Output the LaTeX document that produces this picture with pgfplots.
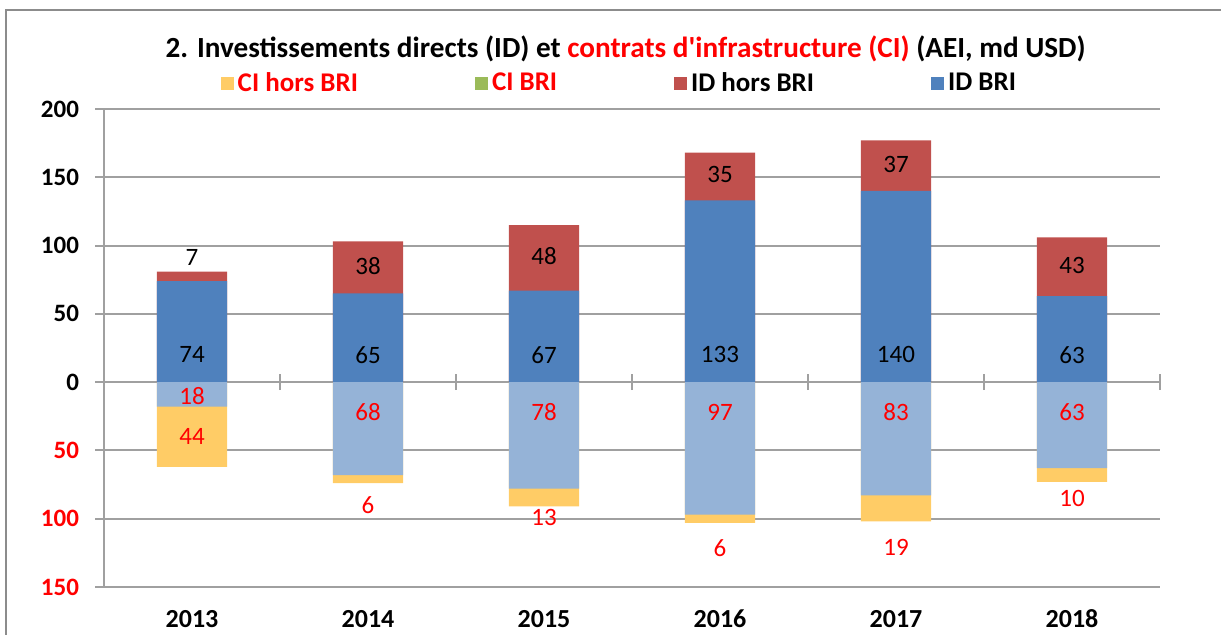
\documentclass[border=0pt]{standalone}
\usepackage{pgfplots}
\pgfplotsset{compat=1.18}
\usepackage{fontspec}
\setmainfont{Carlito}[Ligatures=TeXOff]
\definecolor{idbri}{HTML}{4F81BD}
\definecolor{idhors}{HTML}{C0504D}
\definecolor{cibri}{HTML}{95B3D7}
\definecolor{cibrileg}{HTML}{9BBB59}
\definecolor{cihors}{HTML}{FFCC66}
\definecolor{gridgray}{HTML}{A0A0A0}
\definecolor{framegray}{HTML}{8C8C8C}
\definecolor{lblred}{HTML}{FF0000}
\begin{document}
\begin{tikzpicture}
\path[use as bounding box] (0pt,0pt) rectangle (610.5pt,317.5pt);
\draw[framegray, line width=1pt] (3pt,-3pt) -- (3pt,312.5pt) -- (615pt,312.5pt);
\begin{axis}[
  at={(52pt,24pt)}, anchor=south west,
  scale only axis, width=528pt, height=239pt,
  xmin=-0.5, xmax=5.5, ymin=-150, ymax=200,
  axis x line*=bottom, axis y line*=left,
  x axis line style={draw=none},
  y axis line style={gridgray, line width=1pt, -},
  xtick={0,...,5}, xticklabels={2013,2014,2015,2016,2017,2018},
  xtick style={draw=none},
  xticklabel style={font=\fontsize{13}{15}\selectfont\bfseries, anchor=center, yshift=-11.5pt},
  ytick={-150,-100,...,200},
  yticklabels={\textcolor{lblred}{150},\textcolor{lblred}{100},\textcolor{lblred}{50},0,50,100,150,200},
  yticklabel style={font=\fontsize{12.5}{15}\selectfont\bfseries, anchor=east, xshift=-4.5pt},
  ytick style={gridgray, line width=1pt},
  tick align=outside, major tick length=4.5pt,
  ymajorgrids, grid style={gridgray, line width=1pt},
  title={2. Investissements directs (ID) et \textcolor{lblred}{contrats d'infrastructure (CI)} (AEI, md USD)},
  title style={font=\bfseries\fontsize{14.6}{17}\selectfont, at={(0.494,1)}, anchor=center, yshift=24pt},
  legend style={at={(0.489,1.054)}, anchor=center, draw=none, fill=none, legend columns=4,
    font=\bfseries\fontsize{13.5}{16}\selectfont,
    /tikz/every even column/.append style={column sep=56.5pt}},
  legend image code/.code={\fill[#1] (-1.5pt,-3.25pt) rectangle (5pt,3.25pt);},
]
\addlegendimage{fill=cihors, draw=none}
\addlegendentry{\textcolor{lblred}{CI hors BRI}}
\addlegendimage{fill=cibrileg, draw=none}
\addlegendentry{\textcolor{lblred}{CI BRI}}
\addlegendimage{fill=idhors, draw=none}
\addlegendentry{ID hors BRI}
\addlegendimage{fill=idbri, draw=none}
\addlegendentry{ID BRI}
% ID totals (ID BRI + ID hors BRI)
\addplot[ybar, bar width=35pt, bar shift=0pt, fill=idhors, draw=none, forget plot]
  coordinates {(0,81) (1,103) (2,115) (3,168) (4,177) (5,106)};
% ID BRI
\addplot[ybar, bar width=35pt, bar shift=0pt, fill=idbri, draw=none, forget plot]
  coordinates {(0,74) (1,65) (2,67) (3,133) (4,140) (5,63)};
% CI totals (negative)
\addplot[ybar, bar width=35pt, bar shift=0pt, fill=cihors, draw=none, forget plot]
  coordinates {(0,-62) (1,-74) (2,-91) (3,-103) (4,-102) (5,-73)};
% CI BRI (negative)
\addplot[ybar, bar width=35pt, bar shift=0pt, fill=cibri, draw=none, forget plot]
  coordinates {(0,-18) (1,-68) (2,-78) (3,-97) (4,-83) (5,-63)};
% labels ID BRI
\addplot[draw=none, mark=none, forget plot, nodes near coords, point meta=explicit symbolic,
  nodes near coords style={anchor=center, font=\fontsize{12.5}{15}\selectfont, text=black}]
  coordinates {(0,20)[74] (1,20)[65] (2,20)[67] (3,20)[133] (4,20)[140] (5,20)[63]};
% labels ID hors BRI
\addplot[draw=none, mark=none, forget plot, nodes near coords, point meta=explicit symbolic,
  nodes near coords style={anchor=center, font=\fontsize{12.5}{15}\selectfont, text=black}]
  coordinates {(0,91.5)[7] (1,85)[38] (2,92)[48] (3,152)[35] (4,159.5)[37] (5,85.5)[43]};
% labels CI BRI
\addplot[draw=none, mark=none, forget plot, nodes near coords, point meta=explicit symbolic,
  nodes near coords style={anchor=center, font=\fontsize{12.5}{15}\selectfont, text=lblred}]
  coordinates {(0,-10)[18] (1,-22)[68] (2,-22)[78] (3,-22)[97] (4,-22)[83] (5,-22)[63]};
% labels CI hors BRI
\addplot[draw=none, mark=none, forget plot, nodes near coords, point meta=explicit symbolic,
  nodes near coords style={anchor=center, font=\fontsize{12.5}{15}\selectfont, text=lblred}]
  coordinates {(0,-40)[44] (1,-90)[6] (2,-99)[13] (3,-121.5)[6] (4,-121)[19] (5,-85)[10]};
\end{axis}
\begin{axis}[
  at={(52pt,24pt)}, anchor=south west,
  scale only axis, width=528pt, height=239pt,
  xmin=-0.5, xmax=5.5, ymin=-150, ymax=200,
  axis x line=middle, axis y line=none,
  x axis line style={draw=none, -},
  xtick={0.5,1.5,2.5,3.5,4.5,5.5},
  xticklabel style={opacity=0, text opacity=0},
  ytick=\empty,
  tick align=center, major tick length=8pt,
  xtick style={gridgray, line width=1pt},
]
\addplot[draw=none, forget plot] coordinates {(0,0)};
\end{axis}
\end{tikzpicture}
\end{document}
